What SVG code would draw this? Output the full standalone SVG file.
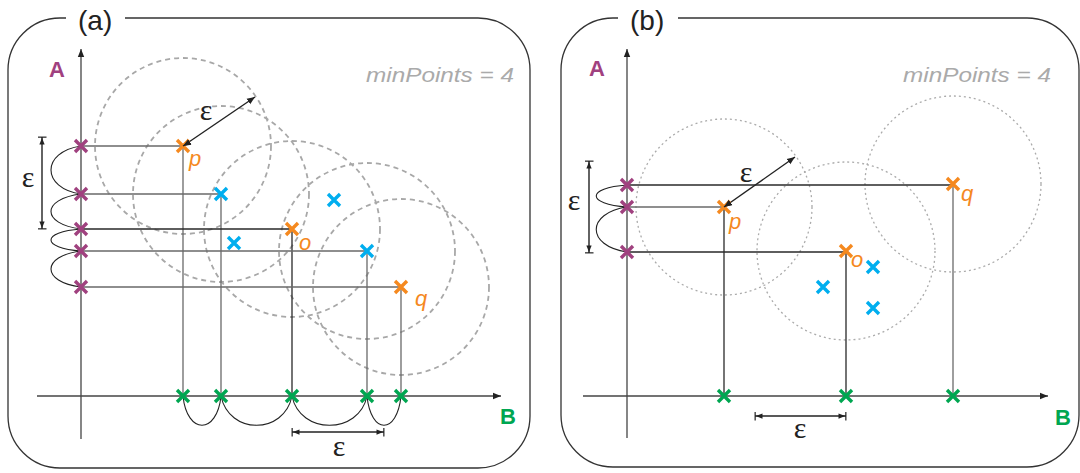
<svg xmlns="http://www.w3.org/2000/svg" xmlns:xlink="http://www.w3.org/1999/xlink" width="1080" height="473" viewBox="0 0 1080 473">
<style>
.frame{fill:none;stroke:#333;stroke-width:1.3}
.axis{fill:none;stroke:#444;stroke-width:1.3}
.proj{fill:none;stroke:#6a6a6a;stroke-width:1.3}
.projd{fill:none;stroke:#2a2a2a;stroke-width:1.3}
.circa{fill:none;stroke:#a8a8a8;stroke-width:1.8;stroke-dasharray:5 4}
.circb{fill:none;stroke:#ababab;stroke-width:1.3;stroke-dasharray:2 3}
.arc{fill:none;stroke:#222;stroke-width:1.1}
.dim{fill:none;stroke:#222;stroke-width:1.4}
.purple{stroke:#a0417f}
.orange{stroke:#f5891f}
.blue{stroke:#00aeef}
.green{stroke:#00a651}
.title{font-family:"Liberation Sans",Arial,sans-serif;font-size:28px;fill:#222}
.axl{font-family:"Liberation Sans",Arial,sans-serif;font-size:22px;font-weight:bold}
.mp{font-family:"Liberation Sans",Arial,sans-serif;font-size:21px;font-style:italic;fill:#aaa}
.pl{font-family:"Liberation Sans",Arial,sans-serif;font-size:22px;font-style:italic;fill:#f5891f}
.eps{font-family:"Liberation Serif","Times New Roman",serif;font-size:30px;fill:#222;text-anchor:middle}
</style>
<defs>
<path id="x" d="M-6,-6 L6,6 M-6,6 L6,-6" fill="none" stroke-width="3.4"/>
<marker id="ah" viewBox="0 0 10 10" refX="10" refY="5" markerWidth="8" markerHeight="8" markerUnits="userSpaceOnUse" orient="auto-start-reverse">
<path d="M0,1 L10,5 L0,9 z" fill="#222"/>
</marker>
<marker id="dh" viewBox="0 0 12 12" refX="11" refY="6" markerWidth="9" markerHeight="9" markerUnits="userSpaceOnUse" orient="auto-start-reverse">
<path d="M1,2.5 L10,6 L1,9.5 z" fill="#222"/>
<rect x="10" y="0" width="1.6" height="12" fill="#222"/>
</marker>
</defs>

<g id="panel-a">
<path class="frame" d="M125 18 H478 A52 52 0 0 1 530 70 V416 A52 52 0 0 1 478 468 H60 A52 52 0 0 1 8 416 V70 A52 52 0 0 1 60 18 H66"/>
<text class="title" x="78" y="30">(a)</text>
<text class="axl" x="49" y="77" fill="#a0417f">A</text>
<text class="axl" x="500" y="424" fill="#00a651">B</text>
<text class="mp" x="366" y="82" textLength="148" lengthAdjust="spacingAndGlyphs">minPoints = 4</text>
</g>

<g id="panel-b">
<path class="frame" d="M678 18 H1027 A52 52 0 0 1 1079 70 V415 A52 52 0 0 1 1027 467 H613 A52 52 0 0 1 561 415 V70 A52 52 0 0 1 613 18 H618"/>
<text class="title" x="630" y="30">(b)</text>
<text class="axl" x="589" y="76" fill="#a0417f">A</text>
<text class="axl" x="1055" y="425" fill="#00a651">B</text>
<text class="mp" x="903" y="82" textLength="148" lengthAdjust="spacingAndGlyphs">minPoints = 4</text>
</g>

<g id="circles-a">
<circle class="circa" cx="183" cy="146" r="88"/>
<circle class="circa" cx="221" cy="194" r="88"/>
<circle class="circa" cx="292" cy="229" r="88"/>
<circle class="circa" cx="367" cy="251" r="88"/>
<circle class="circa" cx="401" cy="287" r="88"/>
</g>
<g id="circles-b">
<circle class="circb" cx="724" cy="207" r="88"/>
<circle class="circb" cx="846" cy="251" r="89"/>
<circle class="circb" cx="953" cy="184" r="88"/>
</g>

<g id="connectors">
<line class="axis" x1="81" y1="439" x2="81" y2="49" marker-end="url(#ah)"/>
<line class="axis" x1="37" y1="396" x2="501" y2="396" marker-end="url(#ah)"/>
<path class="proj" d="M81 146 H183 V396"/>
<path class="proj" d="M81 194 H221 V396"/>
<path class="projd" d="M81 229 H292 V396"/>
<path class="proj" d="M81 251 H367 V396"/>
<path class="proj" d="M81 287 H401 V396"/>
<path class="arc" d="M81 146 C41 152 41 188 81 194 C41 199 41 224 81 229 C41 232 41 248 81 251 C41 256 41 282 81 287"/>
<path class="arc" d="M183 396 C187 435 217 435 221 396 C229 435 284 435 292 396 C300 435 359 435 367 396 C371 435 397 435 401 396"/>
<line class="dim" x1="255" y1="97" x2="183" y2="146" marker-start="url(#ah)" marker-end="url(#ah)"/>
<line class="dim" x1="42" y1="137" x2="42" y2="229" marker-start="url(#dh)" marker-end="url(#dh)"/>
<line class="dim" x1="292" y1="432" x2="384" y2="432" marker-start="url(#dh)" marker-end="url(#dh)"/>

<line class="axis" x1="627" y1="438" x2="627" y2="49" marker-end="url(#ah)"/>
<line class="axis" x1="583" y1="396" x2="1048" y2="396" marker-end="url(#ah)"/>
<path class="projd" d="M627 185 H953"/>
<path class="proj" d="M953 185 V396"/>
<path class="proj" d="M627 207 H724"/>
<path class="projd" d="M724 207 V396"/>
<path class="projd" d="M627 252 H846 V396"/>
<path class="arc" d="M627 185 C586 188 586 204 627 207 C586 213 586 246 627 252"/>
<line class="dim" x1="795" y1="157" x2="724" y2="207" marker-start="url(#ah)" marker-end="url(#ah)"/>
<line class="dim" x1="589" y1="161" x2="589" y2="253" marker-start="url(#dh)" marker-end="url(#dh)"/>
<line class="dim" x1="755" y1="416" x2="846" y2="416" marker-start="url(#dh)" marker-end="url(#dh)"/>
</g>

<g id="eps-labels">
<text class="eps" x="206" y="120">ε</text>
<text class="eps" x="28" y="187">ε</text>
<text class="eps" x="339" y="456">ε</text>
<text class="eps" x="746" y="182">ε</text>
<text class="eps" x="574" y="210">ε</text>
<text class="eps" x="800" y="438">ε</text>
</g>

<g id="a-proj-A">
<use href="#x" xlink:href="#x" class="purple" x="81" y="146"/>
<use href="#x" xlink:href="#x" class="purple" x="81" y="194"/>
<use href="#x" xlink:href="#x" class="purple" x="81" y="229"/>
<use href="#x" xlink:href="#x" class="purple" x="81" y="251"/>
<use href="#x" xlink:href="#x" class="purple" x="81" y="287"/>
</g>
<g id="a-proj-B">
<use href="#x" xlink:href="#x" class="green" x="183" y="396"/>
<use href="#x" xlink:href="#x" class="green" x="221" y="396"/>
<use href="#x" xlink:href="#x" class="green" x="292" y="396"/>
<use href="#x" xlink:href="#x" class="green" x="367" y="396"/>
<use href="#x" xlink:href="#x" class="green" x="401" y="396"/>
</g>
<g id="a-p">
<use href="#x" xlink:href="#x" class="orange" x="183" y="146"/>
<text class="pl" x="189" y="166">p</text>
</g>
<g id="a-o">
<use href="#x" xlink:href="#x" class="orange" x="292" y="229"/>
<text class="pl" x="299" y="250">o</text>
</g>
<g id="a-q">
<use href="#x" xlink:href="#x" class="orange" x="401" y="287"/>
<text class="pl" x="415" y="306">q</text>
</g>
<g id="a-blue">
<use href="#x" xlink:href="#x" class="blue" x="221" y="194"/>
<use href="#x" xlink:href="#x" class="blue" x="234" y="243"/>
<use href="#x" xlink:href="#x" class="blue" x="334" y="200"/>
<use href="#x" xlink:href="#x" class="blue" x="367" y="251"/>
</g>

<g id="b-proj-A">
<use href="#x" xlink:href="#x" class="purple" x="627" y="185"/>
<use href="#x" xlink:href="#x" class="purple" x="627" y="207"/>
<use href="#x" xlink:href="#x" class="purple" x="627" y="252"/>
</g>
<g id="b-proj-B">
<use href="#x" xlink:href="#x" class="green" x="724" y="396"/>
<use href="#x" xlink:href="#x" class="green" x="846" y="396"/>
<use href="#x" xlink:href="#x" class="green" x="953" y="396"/>
</g>
<g id="b-p">
<use href="#x" xlink:href="#x" class="orange" x="724" y="207"/>
<text class="pl" x="729" y="229">p</text>
</g>
<g id="b-o">
<use href="#x" xlink:href="#x" class="orange" x="846" y="251"/>
<text class="pl" x="851" y="267">o</text>
</g>
<g id="b-q">
<use href="#x" xlink:href="#x" class="orange" x="953" y="184"/>
<text class="pl" x="961" y="201">q</text>
</g>
<g id="b-blue">
<use href="#x" xlink:href="#x" class="blue" x="873" y="267"/>
<use href="#x" xlink:href="#x" class="blue" x="823" y="287"/>
<use href="#x" xlink:href="#x" class="blue" x="873" y="308"/>
</g>
<g id="arrow-tips">
<line class="dim" x1="183" y1="146" x2="188" y2="143" marker-start="url(#ah)"/>
<line class="dim" x1="724" y1="207" x2="729" y2="203.5" marker-start="url(#ah)"/>
</g>
</svg>
